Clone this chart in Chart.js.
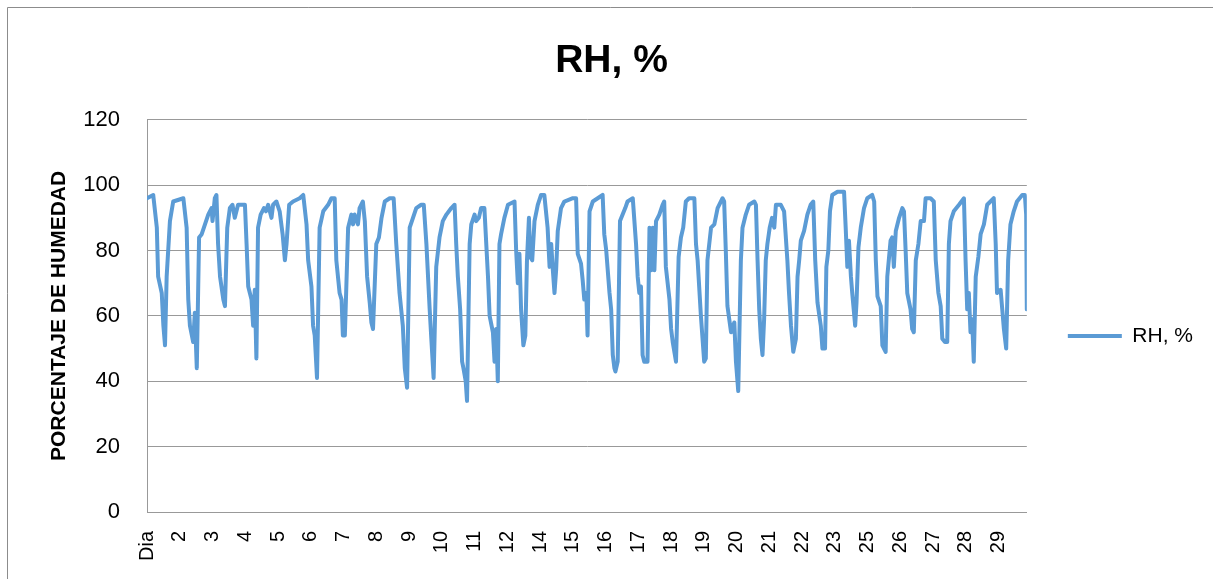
<!DOCTYPE html>
<html lang="es">
<head>
    <meta charset="UTF-8">
    <title>RH, %</title>
    <script src="https://cdn.jsdelivr.net/npm/chart.js"></script>
    <style>
        body { margin: 0; background: #fff; }
        #wrap { width: 1213px; height: 579px; position: relative; }
    </style>
</head>
<body>

<div id="wrap">
    <canvas id="rhChart"></canvas>
</div>

<script>
    // tick labels shown under the x axis (Excel skipped 13 and 24)
    const dayLabels = ['Dia', '2', '3', '4', '5', '6', '7', '8', '9', '10', '11', '12', '14',
        '15', '16', '17', '18', '19', '20', '21', '22', '23', '25', '26', '27', '28', '29'];

    // position of each reading, in tick-label units (0 = "Dia")
    const dayPos = [
        0, 0.19, 0.30, 0.34, 0.45, 0.50, 0.55, 0.60, 0.70, 0.80,
        1.11, 1.21, 1.26, 1.31, 1.41, 1.46, 1.52, 1.59, 1.67, 1.77, 1.87, 1.97,
        2.00, 2.07, 2.12, 2.17, 2.23, 2.33, 2.38, 2.45, 2.53, 2.61, 2.68, 2.78, 2.99,
        3.04, 3.09, 3.19, 3.24, 3.29, 3.34, 3.39, 3.47, 3.57, 3.63, 3.70, 3.80, 3.85, 3.95,
        4.05, 4.14, 4.21, 4.26, 4.34, 4.46, 4.66, 4.77, 4.87, 4.92,
        5.02, 5.07, 5.12, 5.19, 5.27, 5.38, 5.53, 5.63, 5.73, 5.78, 5.88, 5.94, 5.98,
        6.04, 6.14, 6.24, 6.29, 6.34, 6.44, 6.49, 6.59, 6.65, 6.72, 6.80, 6.85, 6.90,
        7.00, 7.08, 7.16, 7.26, 7.41, 7.53, 7.61, 7.71, 7.81, 7.87, 7.94,
        8.02, 8.12, 8.22, 8.37, 8.45, 8.53, 8.63, 8.68, 8.75, 8.83, 8.93,
        9.03, 9.14, 9.29, 9.39, 9.44, 9.49, 9.56, 9.62, 9.66, 9.73, 9.77, 9.85, 9.90,
        10.00, 10.05, 10.13, 10.20, 10.30, 10.41, 10.46, 10.56, 10.61, 10.66, 10.71, 10.76, 10.81, 10.91,
        11.02, 11.22, 11.27, 11.32, 11.37, 11.42, 11.49, 11.55, 11.60, 11.66, 11.70, 11.76, 11.83, 11.93,
        12.03, 12.13, 12.23, 12.29, 12.34, 12.39, 12.44, 12.49, 12.54, 12.64, 12.74,
        13.00, 13.10, 13.15, 13.25, 13.30, 13.35, 13.41, 13.45, 13.51, 13.61, 13.76, 13.91, 13.96,
        14.02, 14.12, 14.17, 14.22, 14.27, 14.30, 14.37, 14.44, 14.52, 14.60, 14.67, 14.83, 14.93, 14.98,
        15.03, 15.08, 15.13, 15.18, 15.28, 15.34, 15.39, 15.44, 15.49, 15.54, 15.64, 15.74, 15.79, 15.84, 15.95,
        16.00, 16.05, 16.15, 16.23, 16.30, 16.37, 16.45, 16.55, 16.71, 16.76, 16.81, 16.91,
        17.01, 17.06, 17.11, 17.22, 17.32, 17.42, 17.57, 17.62, 17.67, 17.72, 17.83, 17.93, 17.98,
        18.05, 18.13, 18.18, 18.28, 18.38, 18.54, 18.59, 18.64, 18.69, 18.74, 18.79, 18.84, 18.89, 18.94,
        19.01, 19.08, 19.15, 19.20, 19.35, 19.45, 19.55, 19.60, 19.66, 19.73, 19.81, 19.86, 19.91, 19.96,
        20.06, 20.16, 20.26, 20.34, 20.40, 20.47, 20.57, 20.62, 20.70, 20.74, 20.80, 20.85, 20.92,
        21.08, 21.28, 21.33, 21.38, 21.43, 21.49, 21.53, 21.62, 21.66, 21.72, 21.79, 21.89, 21.99,
        22.14, 22.20, 22.25, 22.30, 22.40, 22.45, 22.55, 22.60, 22.70, 22.75, 22.80, 22.86, 22.96,
        23.06, 23.11, 23.16, 23.21, 23.31, 23.36, 23.41, 23.47, 23.55, 23.62, 23.72, 23.77, 23.92,
        24.02, 24.08, 24.16, 24.23, 24.28, 24.36, 24.43, 24.48, 24.53, 24.63, 24.79, 24.94, 24.99,
        25.04, 25.09, 25.14, 25.19, 25.24, 25.30, 25.38, 25.45, 25.55, 25.65, 25.85, 25.91, 25.95,
        26.06, 26.11, 26.16, 26.23, 26.29, 26.36, 26.46, 26.56, 26.72, 26.80, 26.84, 26.86
    ];

    // relative humidity, %
    const rh = [
        96, 97, 87, 72, 67, 57, 51, 72, 89, 95,
        96, 87, 65, 57, 52, 61, 44, 84, 85, 88, 91, 93,
        89, 96, 97, 82, 72, 65, 63, 87, 93, 94, 90, 94, 94,
        82, 69, 65, 57, 68, 47, 87, 91, 93, 92, 94, 90, 94, 95,
        92, 85, 77, 82, 94, 95, 96, 97, 88, 77,
        69, 57, 54, 41, 87, 92, 94, 96, 96, 77, 67, 65, 54,
        54, 87, 91, 88, 91, 88, 93, 95, 89, 72, 64, 58, 56,
        82, 84, 90, 95, 96, 96, 82, 67, 57, 44, 38,
        87, 90, 93, 94, 94, 82, 62, 53, 41, 75, 84,
        89, 91, 93, 94, 82, 72, 62, 46, 44, 40, 34, 82, 88,
        91, 89, 90, 93, 93, 72, 60, 55, 46, 56, 40, 82, 85, 90,
        94, 95, 80, 70, 79, 62, 51, 54, 77, 90, 78, 77, 89, 94,
        97, 97, 87, 75, 82, 74, 67, 74, 86, 93, 95,
        96, 96, 79, 76, 71, 65, 67, 54, 92, 95, 96, 97, 85,
        80, 67, 62, 48, 44, 43, 46, 89, 91, 93, 95, 96, 82, 72,
        67, 69, 48, 46, 46, 87, 74, 87, 74, 89, 91, 94, 95, 75, 65,
        56, 52, 46, 78, 84, 87, 95, 96, 96, 82, 77, 60,
        46, 47, 77, 87, 88, 93, 96, 95, 80, 63, 55, 58, 46,
        37, 77, 87, 91, 94, 95, 94, 77, 62, 53, 48, 59, 77, 82,
        87, 90, 87, 94, 94, 92, 77, 67, 57, 49, 53, 72, 77, 83,
        86, 91, 94, 95, 77, 64, 57, 50, 50, 75, 80, 92, 97,
        98, 98, 87, 75, 83, 72, 67, 57, 64, 81, 87, 93, 96,
        97, 95, 77, 66, 63, 51, 49, 72, 83, 84, 75, 86, 90,
        93, 92, 80, 67, 62, 56, 55, 77, 82, 89, 89, 96, 96,
        95, 77, 67, 63, 53, 52, 52, 82, 89, 92, 94, 96, 77,
        62, 67, 55, 59, 46, 72, 78, 85, 88, 94, 96, 82, 67,
        68, 62, 56, 50, 77, 88, 92, 95, 97, 97, 91, 62
    ];

    const yTicks = [0, 20, 40, 60, 80, 100, 120];

    const LINE_COLOR = '#5B9BD5';
    const GRID_COLOR = '#999999';
    const FONT = 'Liberation Sans';

    // white background + the thin frame Excel leaves on the top and left edges
    const framePlugin = {
        id: 'frame',
        beforeDraw(chart) {
            const ctx = chart.ctx;
            ctx.save();
            ctx.fillStyle = '#ffffff';
            ctx.fillRect(0, 0, chart.width, chart.height);
            ctx.strokeStyle = '#8c8c8c';
            ctx.lineWidth = 1;
            ctx.beginPath();
            ctx.moveTo(7.5, chart.height);
            ctx.lineTo(7.5, 7.5);
            ctx.lineTo(chart.width, 7.5);
            ctx.stroke();
            ctx.restore();
        }
    };

    const points = dayPos.map((t, i) => ({ x: t, y: rh[i] }));

    const ctx = document.getElementById('rhChart').getContext('2d');
    new Chart(ctx, {
        type: 'line',
        data: {
            datasets: [{
                label: 'RH, %',
                data: points,
                borderColor: LINE_COLOR,
                backgroundColor: LINE_COLOR,
                borderWidth: 4,
                borderJoinStyle: 'round',
                borderCapStyle: 'round',
                pointRadius: 0,
                tension: 0,
                fill: false
            }]
        },
        options: {
            responsive: true,
            maintainAspectRatio: false,
            animation: false,
            layout: {
                padding: { top: 0, right: 10, bottom: 0, left: 20 }
            },
            scales: {
                x: {
                    type: 'linear',
                    min: 0,
                    max: dayPos[dayPos.length - 1],
                    grid: { display: false, drawTicks: false },
                    border: { display: true, color: GRID_COLOR },
                    ticks: {
                        stepSize: 1,
                        autoSkip: false,
                        includeBounds: false,
                        minRotation: 90,
                        maxRotation: 90,
                        padding: 19,
                        color: '#000',
                        font: { family: FONT, size: 20 },
                        callback: (v) => dayLabels[v] !== undefined ? dayLabels[v] : ''
                    },
                    afterFit(scale) { scale.height = 67; }
                },
                y: {
                    min: yTicks[0],
                    max: yTicks[yTicks.length - 1],
                    grid: { color: GRID_COLOR, lineWidth: 1, drawTicks: false },
                    border: { display: true, color: GRID_COLOR },
                    ticks: {
                        stepSize: yTicks[1] - yTicks[0],
                        padding: 27,
                        color: '#000',
                        font: { family: FONT, size: 22 }
                    },
                    title: {
                        display: true,
                        text: 'PORCENTAJE DE HUMEDAD',
                        color: '#000',
                        font: { family: FONT, size: 21, weight: 'bold' },
                        padding: { top: 27, bottom: 0 }
                    },
                    afterFit(scale) { scale.width = 127; }
                }
            },
            plugins: {
                title: {
                    display: true,
                    text: 'RH, %',
                    color: '#000',
                    font: { family: FONT, size: 39, weight: 'bold' },
                    padding: { top: 38, bottom: 35 }
                },
                legend: {
                    position: 'right',
                    fullSize: false,
                    align: 'center',
                    title: { display: true, text: '', padding: 13 },
                    labels: {
                        boxWidth: 54,
                        boxHeight: 4,
                        padding: 41,
                        color: '#000',
                        font: { family: FONT, size: 21 },
                        generateLabels(chart) {
                            const items = Chart.defaults.plugins.legend.labels.generateLabels(chart);
                            items.forEach(it => { it.lineWidth = 0; it.fillStyle = LINE_COLOR; });
                            return items;
                        }
                    }
                },
                tooltip: { enabled: false }
            }
        },
        plugins: [framePlugin]
    });
</script>

</body>
</html>
